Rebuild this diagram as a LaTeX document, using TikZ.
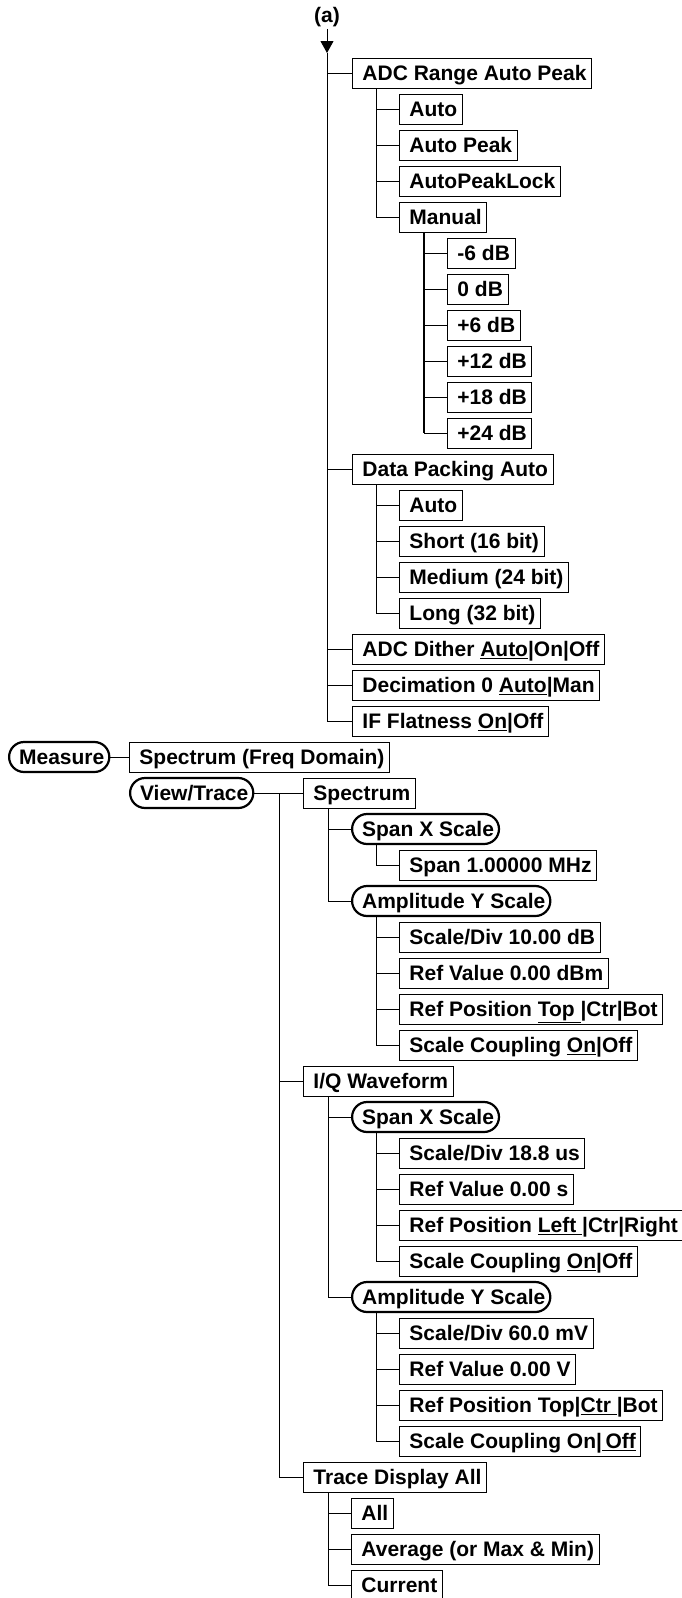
\documentclass[tikz,border=0pt]{standalone}
\usepackage{fontspec}
\setmainfont{Liberation Sans}
\usetikzlibrary{arrows.meta}

\begin{document}
\begin{tikzpicture}[x=1pt,y=-1pt,
  menu/.style={draw,line width=0.9pt,anchor=west,minimum height=30pt,inner xsep=5pt,inner ysep=0pt,
    text height=15.5pt,text depth=0pt,font=\fontsize{21}{24}\selectfont\bfseries,
    execute at begin node={\hspace*{5pt}}},
  key/.style={menu,line width=2.2pt,rounded corners=15pt},
  wire/.style={line width=0.9pt},
  arr/.style={wire,-{Triangle[length=12pt,width=13pt]}}]
\useasboundingbox (0,0) rectangle (681,1598);
% entry (a) and its settings
\node[font=\fontsize{21}{24}\selectfont\bfseries,inner sep=2pt] (lbla) at (327,17) {(a)};
\coordinate (trunk) at (327,53);
\node[menu] (adc) at (352,73) {ADC Range Auto Peak};
\node[menu] (adcauto) at (399,109) {Auto};
\node[menu] (adcpeak) at (399,145) {Auto Peak};
\node[menu] (adclock) at (399,181) {AutoPeakLock};
\node[menu] (adcman) at (399,217) {Manual};
\node[menu] (m6) at (447,253) {-6 dB};
\node[menu] (z0) at (447,289) {0 dB};
\node[menu] (p6) at (447,325) {+6 dB};
\node[menu] (p12) at (447,361) {+12 dB};
\node[menu] (p18) at (447,397) {+18 dB};
\node[menu] (p24) at (447,433) {+24 dB};
\node[menu] (pack) at (352,469) {Data Packing Auto};
\node[menu] (pauto) at (399,505) {Auto};
\node[menu] (pshort) at (399,541) {Short (16 bit)};
\node[menu] (pmed) at (399,577) {Medium (24 bit)};
\node[menu] (plong) at (399,613) {Long (32 bit)};
\node[menu] (dith) at (352,649) {ADC Dither \underline{Auto}|On|Off};
\node[menu] (deci) at (352,685) {Decimation 0 \underline{Auto}|Man};
\node[menu] (iff) at (352,721) {IF Flatness \underline{On}|Off};
% Measure / View/Trace
\node[key] (meas) at (8,757) {Measure};
\node[menu] (spec) at (129,757) {Spectrum (Freq Domain)};
\node[key] (view) at (129,793) {View/Trace};
\coordinate (viewspine) at (279,793);
\node[menu] (vspec) at (303,793) {Spectrum};
\node[key] (sspan) at (351,829) {Span X Scale};
\node[menu] (span) at (399,865) {Span 1.00000 MHz};
\node[key] (samp) at (351,901) {Amplitude Y Scale};
\node[menu] (sdiv) at (399,937) {Scale/Div 10.00 dB};
\node[menu] (sref) at (399,973) {Ref Value 0.00 dBm};
\node[menu] (spos) at (399,1009) {Ref Position \underline{Top\ }|Ctr|Bot};
\node[menu] (scpl) at (399,1045) {Scale Coupling \underline{On}|Off};
\node[menu] (iq) at (303,1081) {I/Q Waveform};
\node[key] (ispan) at (351,1117) {Span X Scale};
\node[menu] (xdiv) at (399,1153) {Scale/Div 18.8 us};
\node[menu] (xref) at (399,1189) {Ref Value 0.00 s};
\node[menu] (xpos) at (399,1225) {Ref Position \underline{Left\ }|Ctr|Right};
\node[menu] (xcpl) at (399,1261) {Scale Coupling \underline{On}|Off};
\node[key] (iamp) at (351,1297) {Amplitude Y Scale};
\node[menu] (ydiv) at (399,1333) {Scale/Div 60.0 mV};
\node[menu] (yref) at (399,1369) {Ref Value 0.00 V};
\node[menu] (ypos) at (399,1405) {Ref Position Top|\underline{Ctr\ }|Bot};
\node[menu] (ycpl) at (399,1441) {Scale Coupling On|\underline{\,Off}};
\node[menu] (tda) at (303,1477) {Trace Display All};
\node[menu] (tall) at (351,1513) {All};
\node[menu] (tavg) at (351,1549) {Average (or Max \& Min)};
\node[menu] (tcur) at (351,1585) {Current};
% spines
\coordinate (adcspine) at ([xshift=24pt]adc.south west);
\coordinate (manspine) at ([xshift=25pt]adcman.south west);
\coordinate (packspine) at ([xshift=24pt]pack.south west);
\coordinate (vspecspine) at ([xshift=25pt]vspec.south west);
\coordinate (sspanspine) at ([xshift=25pt]sspan.south west);
\coordinate (sampspine) at ([xshift=25pt]samp.south west);
\coordinate (iqspine) at ([xshift=25pt]iq.south west);
\coordinate (ispanspine) at ([xshift=25pt]ispan.south west);
\coordinate (iampspine) at ([xshift=25pt]iamp.south west);
\coordinate (tdaspine) at ([xshift=25pt]tda.south west);
% connectors
\draw[arr] (lbla) -- (trunk);
\draw[wire] (trunk) |- (iff.west);
\foreach \c in {adc,pack,dith,deci} \draw[wire] (trunk |- \c.west) -- (\c.west);
\draw[wire] (adcspine) |- (adcman.west);
\foreach \c in {adcauto,adcpeak,adclock} \draw[wire] (adcspine |- \c.west) -- (\c.west);
\draw[wire,line width=1.6pt] (manspine) -- (manspine |- p24.west);
\draw[wire] (manspine |- p24.west) -- (p24.west);
\foreach \c in {m6,z0,p6,p12,p18} \draw[wire] (manspine |- \c.west) -- (\c.west);
\draw[wire] (packspine) |- (plong.west);
\foreach \c in {pauto,pshort,pmed} \draw[wire] (packspine |- \c.west) -- (\c.west);
\draw[wire] (meas) -- (spec);
\draw[wire] (view) -- (vspec);
\draw[wire] (viewspine) |- (tda.west);
\draw[wire] (viewspine |- iq.west) -- (iq.west);
\draw[wire] (vspecspine) |- (samp.west);
\draw[wire] (vspecspine |- sspan.west) -- (sspan.west);
\draw[wire] (sspanspine) |- (span.west);
\draw[wire] (sampspine) |- (scpl.west);
\foreach \c in {sdiv,sref,spos} \draw[wire] (sampspine |- \c.west) -- (\c.west);
\draw[wire] (iqspine) |- (iamp.west);
\draw[wire] (iqspine |- ispan.west) -- (ispan.west);
\draw[wire] (ispanspine) |- (xcpl.west);
\foreach \c in {xdiv,xref,xpos} \draw[wire] (ispanspine |- \c.west) -- (\c.west);
\draw[wire] (iampspine) |- (ycpl.west);
\foreach \c in {ydiv,yref,ypos} \draw[wire] (iampspine |- \c.west) -- (\c.west);
\draw[wire] (tdaspine) |- (tcur.west);
\foreach \c in {tall,tavg} \draw[wire] (tdaspine |- \c.west) -- (\c.west);
\end{tikzpicture}
\end{document}
